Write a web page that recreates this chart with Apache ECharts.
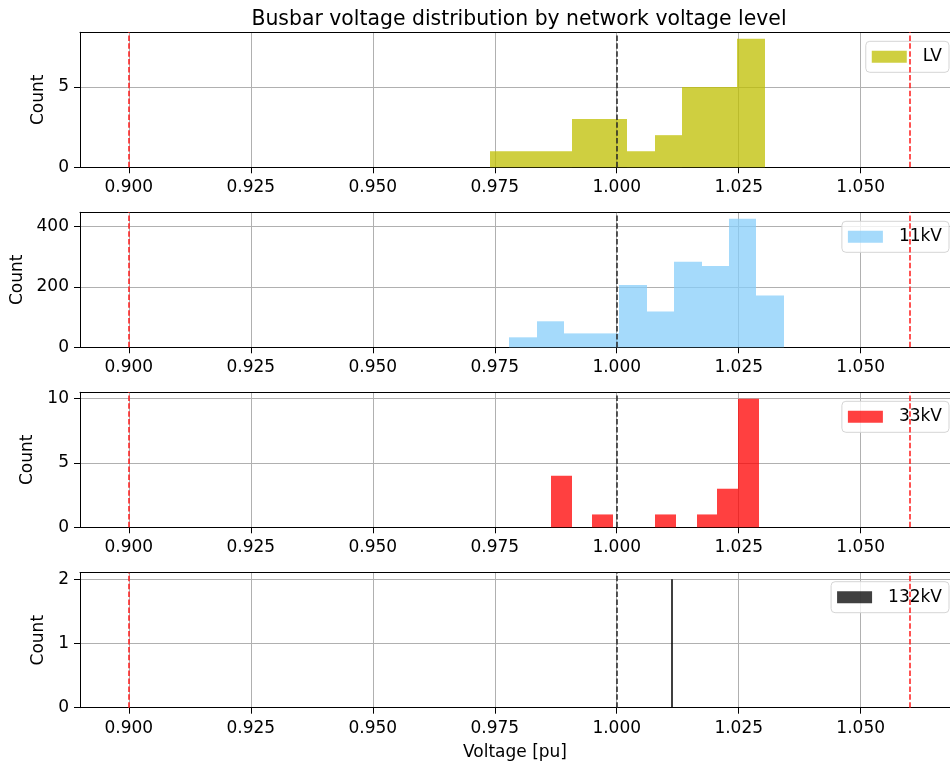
<!DOCTYPE html>
<html>
<head>
<meta charset="utf-8">
<script src="https://cdn.jsdelivr.net/npm/echarts@6/dist/echarts.min.js"></script>
<style>
  html, body { margin: 0; padding: 0; background: #fff; overflow: hidden; }
  #chart { width: 950px; height: 763px; }
</style>
</head>
<body>
<div id="chart"></div>
<script>
// Histogram bin edges and counts per network voltage level
const lvEdges   = [0.9740, 0.9797, 0.9853, 0.9909, 0.9966, 1.0022, 1.0078, 1.0134, 1.0191, 1.0247, 1.0303];
const lvCounts  = [1, 1, 1, 3, 3, 1, 2, 5, 5, 8];

const kv11Edges  = [0.9779, 0.9836, 0.9892, 0.9948, 1.0005, 1.0061, 1.0117, 1.0174, 1.0230, 1.0286, 1.0342];
const kv11Counts = [33, 86, 46, 46, 206, 118, 283, 269, 425, 171];

const kv33Edges  = [0.9865, 0.9908, 0.9950, 0.9993, 1.0036, 1.0078, 1.0121, 1.0164, 1.0206, 1.0249, 1.0292];
const kv33Counts = [4, 0, 1, 0, 0, 1, 0, 1, 3, 10];

const kv132Edges  = [1.01120, 1.01145];
const kv132Counts = [2];

const levelNames = ['LV', '11kV', '33kV', '132kV'];

// Tick positions
const xTicks = [0.900, 0.925, 0.950, 0.975, 1.000, 1.025, 1.050];
const yTicksList = [[0, 5], [0, 200, 400], [0, 5, 10], [0, 1, 2]];

// Reference lines: statutory limits and nominal voltage
const limitLines = [0.90, 1.06];
const nominalLine = 1.00;

// Visible voltage window (the frame continues just past the right edge)
const xMin = 0.89, xMax = 1.0683;

const panels = [
  { edges: lvEdges,    counts: lvCounts,    color: 'rgba(191,191,0,0.75)' },
  { edges: kv11Edges,  counts: kv11Counts,  color: 'rgba(135,206,250,0.75)' },
  { edges: kv33Edges,  counts: kv33Counts,  color: 'rgba(255,0,0,0.75)' },
  { edges: kv132Edges, counts: kv132Counts, color: 'rgba(0,0,0,0.75)' }
];

const FONT = 'DejaVu Sans';
const gridTops = [32.3, 212.3, 392.3, 572.7];
const gridHeight = 135;
const nameGaps = [26, 52, 40, 26];
const dash = [5.5, 2.4];

const grids = [], xAxes = [], yAxes = [], series = [], legends = [];

panels.forEach((p, i) => {
  grids.push({ left: 80, right: 0, top: gridTops[i], height: gridHeight, show: false });

  // bottom axis with ticks, labels and vertical grid
  xAxes.push({
    gridIndex: i, type: 'value', min: xMin, max: xMax, position: 'bottom',
    name: i === 3 ? 'Voltage [pu]' : '',
    nameLocation: 'middle', nameGap: 36,
    nameTextStyle: { fontFamily: FONT, fontSize: 17, color: '#000' },
    axisLine: { show: true, onZero: false, lineStyle: { color: '#000', width: 1 } },
    axisTick: { show: true, length: 6, customValues: xTicks, lineStyle: { color: '#000', width: 1 } },
    axisLabel: {
      customValues: xTicks, margin: 12, fontFamily: FONT, fontSize: 17, color: '#000',
      formatter: v => v.toFixed(3)
    },
    splitLine: { show: true, lineStyle: { color: '#b0b0b0', width: 1 } }
  });
  // top spine only
  xAxes.push({
    gridIndex: i, type: 'value', min: xMin, max: xMax, position: 'top',
    axisLine: { show: true, onZero: false, lineStyle: { color: '#000', width: 1 } },
    axisTick: { show: false }, axisLabel: { show: false }, splitLine: { show: false }
  });

  const maxCount = Math.max(...p.counts);
  yAxes.push({
    gridIndex: i, type: 'value', min: 0, max: maxCount * 1.05,
    name: 'Count', nameLocation: 'middle', nameGap: nameGaps[i],
    nameTextStyle: { fontFamily: FONT, fontSize: 17, color: '#000' },
    axisLine: { show: true, lineStyle: { color: '#000', width: 1 } },
    axisTick: { show: true, length: 6, customValues: yTicksList[i], lineStyle: { color: '#000', width: 1 } },
    axisLabel: { customValues: yTicksList[i], margin: 11, fontFamily: FONT, fontSize: 17, color: '#000' },
    splitLine: { show: true, lineStyle: { color: '#b0b0b0', width: 1 } }
  });

  const data = p.counts.map((c, k) => [p.edges[k], p.edges[k + 1], c]);
  series.push({
    name: levelNames[i],
    type: 'custom',
    xAxisIndex: i * 2, yAxisIndex: i,
    itemStyle: { color: p.color },
    encode: { x: [0, 1], y: 2 },
    data: data,
    renderItem: (params, api) => {
      const a = api.coord([api.value(0), api.value(2)]);
      const b = api.coord([api.value(1), 0]);
      // snap edges to whole pixels so neighbouring bins don't overlap
      const x0 = Math.round(a[0]);
      const w = Math.max(Math.round(b[0]) - x0, 1);
      return {
        type: 'rect',
        shape: { x: x0, y: a[1], width: w, height: b[1] - a[1] },
        style: { fill: p.color }
      };
    },
    markLine: {
      silent: true, symbol: ['none', 'none'], animation: false,
      label: { show: false },
      lineStyle: { type: dash, width: 1.5 },
      data: [
        { xAxis: limitLines[0], lineStyle: { color: '#ff1a1a', type: dash, width: 1.5 } },
        { xAxis: limitLines[1], lineStyle: { color: '#ff1a1a', type: dash, width: 1.5 } },
        { xAxis: nominalLine, lineStyle: { color: '#262626', type: dash, width: 1.5 } }
      ]
    }
  });
  legends.push({
    data: [{ name: levelNames[i], itemStyle: { color: p.color } }],
    top: gridTops[i] + 9, right: 1,
    orient: 'vertical',
    icon: 'rect', itemWidth: 35, itemHeight: 12,
    padding: [7, 7, 7, 6],
    borderColor: '#d5d5d5', borderWidth: 1, borderRadius: 4,
    backgroundColor: 'rgba(255,255,255,0.8)',
    selectedMode: false,
    textStyle: { fontFamily: FONT, fontSize: 17, color: '#000', padding: [0, 0, 0, 11] }
  });
});

const chart = echarts.init(document.getElementById('chart'), null, { renderer: 'canvas' });
chart.setOption({
  animation: false,
  title: {
    text: 'Busbar voltage distribution by network voltage level',
    left: 514, top: 5, textAlign: 'center',
    textStyle: { fontFamily: FONT, fontSize: 20.4, fontWeight: 'normal', color: '#000' }
  },
  grid: grids,
  xAxis: xAxes,
  yAxis: yAxes,
  legend: legends,
  series: series
});
</script>
</body>
</html>
